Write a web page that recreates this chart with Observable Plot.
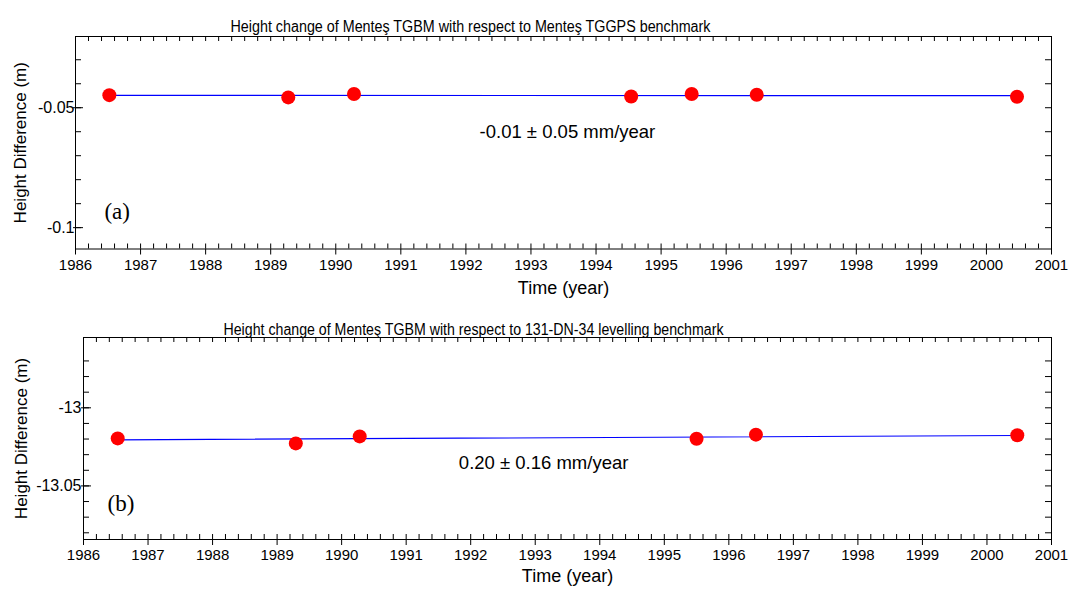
<!DOCTYPE html>
<html>
<head>
<meta charset="utf-8">
<script src="https://cdn.jsdelivr.net/npm/d3@7"></script>
<script src="https://cdn.jsdelivr.net/npm/@observablehq/plot@0.6"></script>
<style>
  body { margin: 0; background: #fff; }
  #chart svg { display: block; }
</style>
</head>
<body>
<div id="chart"></div>
<script>
// Panel (a): Menteş TGBM relative to the Menteş TGGPS benchmark
const yearsA = [1986.52, 1989.27, 1990.28, 1994.54, 1995.47, 1996.47, 2000.47];
const heightsA = [-0.04475, -0.0457, -0.0443, -0.0453, -0.0443, -0.0446, -0.0454];
const rateA = -0.01;      // mm/year
const rateErrA = 0.05;    // mm/year

// Panel (b): Menteş TGBM relative to the 131-DN-34 levelling benchmark
const yearsB = [1986.53, 1989.29, 1990.28, 1995.50, 1996.42, 2000.47];
const heightsB = [-13.0196, -13.0228, -13.0183, -13.0198, -13.0172, -13.0176];
const rateB = 0.20;       // mm/year
const rateErrB = 0.16;    // mm/year

// Axis ticks
const yearTicks = [1986, 1987, 1988, 1989, 1990, 1991, 1992, 1993, 1994, 1995, 1996, 1997, 1998, 1999, 2000, 2001];
const yearMinorTicks = d3.range(0, 76).map(i => 1986 + i * 0.2);
const yTicksA = [-0.05, -0.1];
const yMinorTicksA = [-0.03, -0.04, -0.05, -0.06, -0.07, -0.08, -0.09, -0.1];
const yTicksB = [-13, -13.05];
const yMinorTicksB = [-12.97, -12.98, -12.99, -13, -13.01, -13.02, -13.03, -13.04, -13.05, -13.06, -13.07, -13.08];

const titleA = "Height change of Menteş TGBM with respect to Menteş TGGPS benchmark";
const titleB = "Height change of Menteş TGBM with respect to 131-DN-34 levelling benchmark";

const FONT = "'Liberation Sans', Arial, sans-serif";

// Trend line through the centroid with the stated rate
function trend(years, heights, rateMmPerYear) {
  const tm = d3.mean(years), hm = d3.mean(heights);
  const slope = rateMmPerYear / 1000;
  const ends = [d3.min(years), d3.max(years)];
  return ends.map(t => ({year: t, h: hm + slope * (t - tm)}));
}

function panel({years, heights, rate, rateErr, title, titleWidth, yDomain, yTicks, yMinor,
                height, margin, tag, tagPos, ratePos, titleDx, titleDy, yPad, yTitleDx, xTitleDy}) {
  const pts = years.map((t, i) => ({year: t, h: heights[i]}));
  const line = trend(years, heights, rate);
  const fw = 1069 - margin.left - margin.right;
  const fh = height - margin.top - margin.bottom;
  const rateText = `${rate.toFixed(2)} ± ${rateErr.toFixed(2)} mm/year`;
  const svg = Plot.plot({
    width: 1069,
    height,
    marginLeft: margin.left,
    marginRight: margin.right,
    marginTop: margin.top,
    marginBottom: margin.bottom,
    style: {fontFamily: FONT, fontSize: "15px", color: "#000", background: "#fff"},
    x: {domain: [1986, 2001], axis: null},
    y: {domain: yDomain, axis: null},
    marks: [
      Plot.frame({stroke: "#000", strokeWidth: 1}),
      // bottom axis: inward minor ticks, outward major ticks
      Plot.tickX(yearMinorTicks, {x: d => d, insetTop: fh - 5, stroke: "#000"}),
      Plot.tickX(yearTicks, {x: d => d, insetTop: fh, insetBottom: -6, stroke: "#000"}),
      // top axis ticks
      Plot.tickX(yearMinorTicks, {x: d => d, insetBottom: fh - 5, stroke: "#000"}),
      // left axis ticks
      Plot.tickY(yMinor, {y: d => d, insetRight: fw - 6, stroke: "#000"}),
      Plot.tickY(yTicks, {y: d => d, insetLeft: -2, insetRight: fw - 8, stroke: "#000"}),
      // right axis ticks
      Plot.tickY(yMinor, {y: d => d, insetLeft: fw - 6, stroke: "#000"}),
      Plot.axisX({ticks: yearTicks, tickSize: 0, tickPadding: 10, tickFormat: d => String(d), label: null, fontSize: 15}),
      Plot.axisY({ticks: yTicks, tickSize: 0, tickPadding: yPad, tickFormat: d => String(d), label: null, fontSize: 16}),
      Plot.text([title], {frameAnchor: "top", dx: titleDx, dy: titleDy, text: d => d, fontSize: 16,
                          className: "panel-title"}),
      Plot.text(["Time (year)"], {frameAnchor: "bottom", dy: xTitleDy, text: d => d, fontSize: 18}),
      Plot.text(["Height Difference (m)"], {frameAnchor: "left", textAnchor: "middle", dx: yTitleDx, rotate: -90,
                                            text: d => d, fontSize: 17}),
      Plot.line(line, {x: "year", y: "h", stroke: "#0000ff", strokeWidth: 1.2}),
      Plot.dot(pts, {x: "year", y: "h", r: 7, fill: "#ff0000", stroke: "none"}),
      Plot.text([rateText], {x: () => ratePos[0], y: () => ratePos[1], text: d => d, fontSize: 18.5}),
      Plot.text([tag], {x: () => tagPos[0], y: () => tagPos[1], text: d => d, fontSize: 23,
                        fontFamily: "'Liberation Serif', 'Times New Roman', serif"})
    ]
  });
  // the panel titles are set in a slightly condensed face
  d3.select(svg).selectAll(".panel-title text")
    .attr("textLength", titleWidth)
    .attr("lengthAdjust", "spacingAndGlyphs");
  return svg;
}

const chart = document.getElementById("chart");
chart.append(panel({
  years: yearsA, heights: heightsA, rate: rateA, rateErr: rateErrA, title: titleA, titleWidth: 480,
  yDomain: [-0.1089, -0.0203], yTicks: yTicksA, yMinor: yMinorTicksA,
  height: 305, margin: {top: 36, bottom: 56.5, left: 75, right: 18},
  tag: "(a)", tagPos: [1986.64, -0.0935], ratePos: [1993.56, -0.0603],
  titleDx: -93, titleDy: -16, yPad: 1, yTitleDx: -55, xTitleDy: 45
}));
chart.append(panel({
  years: yearsB, heights: heightsB, rate: rateB, rateErr: rateErrB, title: titleB, titleWidth: 500,
  yDomain: [-13.0843, -12.955], yTicks: yTicksB, yMinor: yMinorTicksB,
  height: 286, margin: {top: 32, bottom: 52, left: 83, right: 18},
  tag: "(b)", tagPos: [1986.58, -13.0612], ratePos: [1993.13, -13.0352],
  titleDx: -94, titleDy: -14, yPad: 2, yTitleDx: -62, xTitleDy: 42
}));
</script>
</body>
</html>
